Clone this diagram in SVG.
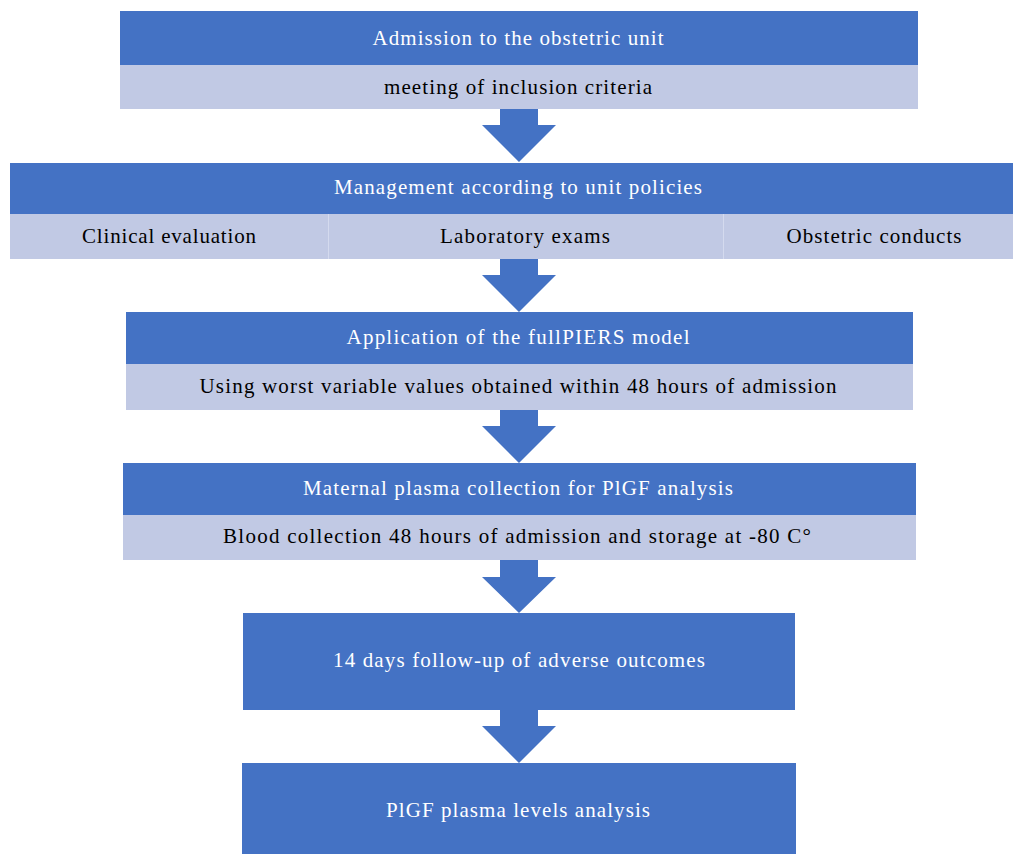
<svg xmlns="http://www.w3.org/2000/svg" width="1013" height="854" viewBox="0 0 1013 854">
<style>
.dark{fill:#4472C4}
.light{fill:#C1C9E4}
.div{stroke:#D4DAEE;stroke-width:1}
.tw{font-family:"Liberation Serif","Times New Roman",serif;font-size:21px;fill:#FFFFFF;text-anchor:middle}
.tb{font-family:"Liberation Serif","Times New Roman",serif;font-size:21px;fill:#000000;text-anchor:middle}
.arr{fill:#4472C4}
</style>
<rect width="1013" height="854" fill="#FFFFFF"/>
<g id="node-admission">
<rect class="dark" x="120" y="11" width="798" height="54"/>
<rect class="light" x="120" y="65" width="798" height="44"/>
<text class="tw" x="518" y="45" textLength="291" lengthAdjust="spacing">Admission to the obstetric unit</text>
<text class="tb" x="518" y="94" textLength="268" lengthAdjust="spacing">meeting  of inclusion  criteria</text>
</g>
<g id="node-management">
<rect class="dark" x="10" y="163" width="1003" height="51"/>
<rect class="light" x="10" y="214" width="1003" height="45"/>
<line class="div" x1="328.5" y1="214" x2="328.5" y2="259"/>
<line class="div" x1="723.5" y1="214" x2="723.5" y2="259"/>
<text class="tw" x="518" y="194" textLength="368" lengthAdjust="spacing">Management  according to unit policies</text>
<text class="tb" x="169" y="243" textLength="174" lengthAdjust="spacing">Clinical  evaluation</text>
<text class="tb" x="525" y="243" textLength="170" lengthAdjust="spacing">Laboratory exams</text>
<text class="tb" x="874" y="243" textLength="175" lengthAdjust="spacing">Obstetric  conducts</text>
</g>
<g id="node-fullpiers">
<rect class="dark" x="126" y="312" width="787" height="52"/>
<rect class="light" x="126" y="364" width="787" height="46"/>
<text class="tw" x="518" y="344" textLength="343" lengthAdjust="spacing">Application  of the fullPIERS  model</text>
<text class="tb" x="518" y="393" textLength="637" lengthAdjust="spacing">Using  worst variable values obtained within  48 hours of admission</text>
</g>
<g id="node-plasma">
<rect class="dark" x="123" y="463" width="793" height="52"/>
<rect class="light" x="123" y="515" width="793" height="45"/>
<text class="tw" x="518" y="495" textLength="430" lengthAdjust="spacing">Maternal  plasma collection for PlGF analysis</text>
<text class="tb" x="517" y="543" textLength="588" lengthAdjust="spacing">Blood collection  48 hours of admission  and storage at -80 C°</text>
</g>
<g id="node-followup">
<rect class="dark" x="243" y="613" width="552" height="97"/>
<text class="tw" x="519" y="667" textLength="372" lengthAdjust="spacing">14 days follow-up  of adverse outcomes</text>
</g>
<g id="node-analysis">
<rect class="dark" x="242" y="763" width="554" height="91"/>
<text class="tw" x="518" y="817" textLength="264" lengthAdjust="spacing">PlGF  plasma  levels analysis</text>
</g>
<g id="connectors">
<polygon class="arr" points="500,109 538,109 538,125 556,125 519,162 482,125 500,125"/>
<polygon class="arr" points="500,259 538,259 538,275 556,275 519,312 482,275 500,275"/>
<polygon class="arr" points="500,410 538,410 538,426 556,426 519,463 482,426 500,426"/>
<polygon class="arr" points="500,560 538,560 538,577 556,577 519,613 482,577 500,577"/>
<polygon class="arr" points="500,710 538,710 538,726 556,726 519,763 482,726 500,726"/>
</g>
</svg>
